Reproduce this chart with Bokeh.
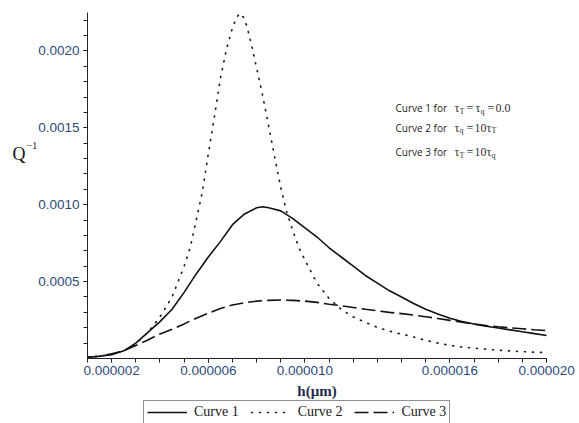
from bokeh.plotting import figure
from bokeh.models import Range1d, FixedTicker, NumeralTickFormatter, Label, Legend, LegendItem
from bokeh.embed import file_html
from bokeh.resources import INLINE

# ---- data (h in units of 1e-6, Q^-1) ----
h1 = [1.0, 1.5, 2.0, 2.5, 3.0, 3.5, 4.0, 4.5, 5.0, 5.5, 6.0, 6.5, 7.0, 7.5, 8.0, 8.25, 8.5,
      9.0, 9.5, 10.0, 10.5, 11.0, 11.5, 12.0, 12.5, 13.0, 13.5, 14.0, 14.5, 15.0, 15.5,
      16.0, 16.5, 17.0, 17.5, 18.0, 18.5, 19.0, 19.5, 20.0]
q1 = [0.000008, 0.000015, 0.000025, 0.00005, 0.0001, 0.00017, 0.00024, 0.00032, 0.00043,
      0.00055, 0.00066, 0.00076, 0.00087, 0.00094, 0.00098, 0.000987, 0.00098, 0.00096,
      0.00091, 0.00085, 0.00079, 0.00072, 0.00066, 0.0006, 0.00054, 0.00049, 0.00044,
      0.0004, 0.000358, 0.00032, 0.00029, 0.000262, 0.00024, 0.000224, 0.00021, 0.000198,
      0.000186, 0.000174, 0.000162, 0.00015]

h2 = [1.0, 1.5, 2.0, 2.5, 3.0, 3.5, 4.0, 4.5, 5.0, 5.25, 5.5, 5.75, 6.0, 6.25, 6.5, 6.75,
      7.0, 7.15, 7.3, 7.45, 7.6, 7.8, 8.0, 8.25, 8.5, 8.75, 9.0, 9.25, 9.5, 9.75, 10.0,
      10.5, 11.0, 11.5, 12.0, 12.5, 13.0, 13.5, 14.0, 14.5, 15.0, 15.5, 16.0, 16.5, 17.0,
      17.5, 18.0, 18.5, 19.0, 19.5, 20.0]
q2 = [0.000008, 0.000015, 0.000028, 0.00005, 0.000095, 0.00017, 0.00027, 0.0004, 0.0006,
      0.00072, 0.0009, 0.00108, 0.00133, 0.00157, 0.00182, 0.00201, 0.00215, 0.00221,
      0.002245, 0.00222, 0.00216, 0.00203, 0.00189, 0.00171, 0.00151, 0.00131, 0.00111,
      0.00095, 0.00083, 0.00072, 0.00064, 0.00049, 0.00039, 0.00032, 0.00027, 0.000235,
      0.000202, 0.000178, 0.000158, 0.00014, 0.000118, 0.0001, 0.000085, 0.000075,
      0.000067, 0.00006, 0.000054, 0.000049, 0.000045, 0.000041, 0.000038]

h3 = [1.0, 1.5, 2.0, 2.5, 3.0, 3.5, 4.0, 4.5, 5.0, 5.5, 6.0, 6.5, 7.0, 7.5, 8.0, 8.5, 9.0,
      9.5, 10.0, 10.5, 11.0, 11.5, 12.0, 12.5, 13.0, 13.5, 14.0, 14.5, 15.0, 15.5, 16.0,
      16.5, 17.0, 17.5, 18.0, 18.5, 19.0, 19.5, 20.0]
q3 = [0.000008, 0.000015, 0.00003, 0.00005, 0.000085, 0.00012, 0.00016, 0.00019, 0.000225,
      0.000262, 0.000295, 0.000325, 0.000348, 0.000363, 0.000373, 0.000378, 0.00038,
      0.000378, 0.000373, 0.000365, 0.000353, 0.000343, 0.000332, 0.00032, 0.00031, 0.0003,
      0.000292, 0.000282, 0.000272, 0.00026, 0.000248, 0.000236, 0.000224, 0.000214,
      0.000206, 0.000199, 0.000193, 0.000187, 0.000182]

x_major = [2, 6, 10, 16, 20]           # labelled ticks (x 1e-6)
x_minor = list(range(1, 21))          # every 1e-6
y_major = [0.0005, 0.0010, 0.0015, 0.0020]
y_minor = [i / 10000 for i in range(1, 23)]

legend_labels = ["Curve 1", "Curve 2", "Curve 3"]

S = 1e-6
X0, X1 = 1e-6, 2e-5          # axis extent
Y0, Y1 = 0.0, 0.00225

# frame fills the canvas; axes are pinned at data locations
p = figure(width=579, height=423, output_backend="svg", toolbar_location=None,
           x_range=Range1d(-2.601e-6, 21.364e-6), y_range=Range1d(-0.0004227, 0.002328),
           min_border=0, background_fill_color="white", border_fill_color="white")
p.outline_line_color = None
p.grid.visible = False

tick_color = "#2d4a7a"
for ax in (p.xaxis[0], p.yaxis[0]):
    ax.axis_line_color = "#222222"
    ax.major_tick_line_color = "#222222"
    ax.minor_tick_line_color = "#222222"
    ax.major_tick_out = 4
    ax.major_tick_in = 0
    ax.minor_tick_out = 4
    ax.minor_tick_in = 0
    ax.major_label_text_font = "Liberation Sans"
    ax.major_label_text_font_size = "13.5px"
    ax.major_label_text_color = tick_color
    ax.major_label_standoff = 4

p.xaxis.fixed_location = Y0
p.xaxis.bounds = (X0, X1)
p.yaxis.fixed_location = X0
p.yaxis.bounds = (Y0, Y1)

p.xaxis.ticker = FixedTicker(ticks=[v * S for v in x_major], minor_ticks=[v * S for v in x_minor])
p.xaxis.formatter = NumeralTickFormatter(format="0.000000")
p.yaxis.ticker = FixedTicker(ticks=y_major, minor_ticks=y_minor)
p.yaxis.formatter = NumeralTickFormatter(format="0.0000")

p.xaxis.axis_label = "h(μm)"
p.xaxis.axis_label_text_font = "Liberation Serif"
p.xaxis.axis_label_text_font_style = "bold"
p.xaxis.axis_label_text_font_size = "15px"
p.xaxis.axis_label_text_color = "#1f2a50"
p.xaxis.axis_label_standoff = 4

r1 = p.line([v * S for v in h1], q1, line_color="#111111", line_width=1.6)
r2 = p.line([v * S for v in h2], q2, line_color="#222222", line_width=1.7,
            line_dash="1 7", line_cap="round")
r3 = p.line([v * S for v in h3], q3, line_color="#111111", line_width=1.6, line_dash="14 5")

legend = Legend(items=[LegendItem(label=legend_labels[0], renderers=[r1]),
                       LegendItem(label=legend_labels[1], renderers=[r2]),
                       LegendItem(label=legend_labels[2], renderers=[r3])],
                orientation="horizontal", location=(143, -1),
                border_line_color="#222222", border_line_width=1,
                background_fill_color="white", background_fill_alpha=1,
                label_text_font="Liberation Serif", label_text_font_size="14px",
                label_text_color="#1a1a1a",
                glyph_width=40, glyph_height=14, label_height=14, padding=3,
                spacing=12, label_standoff=7, margin=0)
p.add_layout(legend)

# y-axis label Q^-1
p.add_layout(Label(x=X0, y=0.001333, x_offset=-75, text="Q",
                   text_font="Liberation Serif", text_font_size="18px",
                   text_color="#111111", text_baseline="alphabetic"))
p.add_layout(Label(x=X0, y=0.001333, x_offset=-61, y_offset=8, text="−1",
                   text_font="Liberation Serif", text_font_size="10px",
                   text_color="#111111", text_baseline="alphabetic"))

# annotation lines
ax0 = 13.75e-6
lines = [
    (0.001626, "Curve 1 for", [("τ", 59, 0, 12), ("T", 64, -3, 8), ("=", 71, 0, 12),
                              ("τ", 80, 0, 12), ("q", 85, -3, 8), ("=", 92, 0, 12),
                              ("0.0", 100, 0, 12)]),
    (0.0015, "Curve 2 for", [("τ", 59, 0, 12), ("q", 64, -3, 8), ("=", 71, 0, 12),
                            ("10", 79, 0, 12), ("τ", 91, 0, 12), ("T", 96, -3, 8)]),
    (0.001342, "Curve 3 for", [("τ", 59, 0, 12), ("T", 64, -3, 8), ("=", 71, 0, 12),
                              ("10", 79, 0, 12), ("τ", 91, 0, 12), ("q", 96, -3, 8)]),
]
for yv, head, parts in lines:
    p.add_layout(Label(x=ax0, y=yv, text=head, text_font="Open Sans",
                       text_font_size="10px", text_color="#222222",
                       text_baseline="alphabetic"))
    for txt, xo, yo, fs in parts:
        p.add_layout(Label(x=ax0, y=yv, x_offset=xo, y_offset=yo, text=txt,
                           text_font="Liberation Serif", text_font_size=f"{fs}px",
                           text_color="#333333", text_baseline="alphabetic"))

open("out.html", "w").write(file_html(p, INLINE))
